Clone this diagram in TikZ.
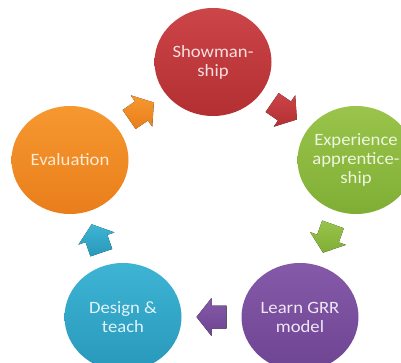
\documentclass[tikz,border=0pt]{standalone}
\usepackage{fontspec}
\setmainfont{Carlito}[FakeStretch=1.08]
\usetikzlibrary{calc,shapes.geometric}
\definecolor{redT}{HTML}{CC4548}
\definecolor{redB}{HTML}{B32F32}
\definecolor{redX}{HTML}{F8DFE0}
\definecolor{grnT}{HTML}{9AC44B}
\definecolor{grnB}{HTML}{80AE34}
\definecolor{grnX}{HTML}{EEF6E2}
\definecolor{purT}{HTML}{8559A9}
\definecolor{purB}{HTML}{6E4592}
\definecolor{purX}{HTML}{EFE7F4}
\definecolor{bluT}{HTML}{3EB4D4}
\definecolor{bluB}{HTML}{2898BA}
\definecolor{bluX}{HTML}{E2F3F8}
\definecolor{orgT}{HTML}{F6982F}
\definecolor{orgB}{HTML}{E97E1B}
\definecolor{orgX}{HTML}{FDEBD4}
\newcommand\cyclearrow[5]{%
  \begin{scope}[shift={($(#1)!0.5!(#2)$)}, rotate=#3]
    \fill[top color=#4, bottom color=#5]
      (-15,-11.5) -- (0,-11.5) -- (0,-19) -- (15,0) -- (0,19) -- (0,11.5) -- (-15,11.5) -- cycle;
  \end{scope}}
\begin{document}
\begin{tikzpicture}[x=1pt,y=1pt,
  bubble/.style={ellipse, minimum width=117pt, minimum height=108pt, inner sep=0pt},
  lbl/.style={align=center, inner sep=0pt, font=\fontsize{17.3}{19}\selectfont}]
\useasboundingbox (0,0) rectangle (401,362);
\clip (0,0) rectangle (401,362);
\node[bubble, top color=redT, bottom color=redB] (show) at (213,300) {};
\node[bubble, top color=grnT, bottom color=grnB] (exp) at (356,202) {};
\node[bubble, top color=purT, bottom color=purB] (learn) at (300,45) {};
\node[bubble, top color=bluT, bottom color=bluB] (design) at (123,45) {};
\node[bubble, top color=orgT, bottom color=orgB] (eval) at (70,202) {};
\node[lbl, text=redX] (showt) at (show) {Showman-\\ship};
\node[lbl, text=grnX] (expt) at (exp) {Experience\\apprentice-\\ship};
\node[lbl, text=purX] (learnt) at (learn) {Learn GRR\\model};
\node[lbl, text=bluX] (designt) at (design) {Design \&\\teach};
\node[lbl, text=orgX] (evalt) at (eval) {Evaluation};
\cyclearrow{eval}{show}{34.4}{orgT}{orgB}
\cyclearrow{show}{exp}{-34.4}{redT}{redB}
\cyclearrow{exp}{learn}{-109.6}{grnT}{grnB}
\cyclearrow{learn}{design}{180}{purT}{purB}
\cyclearrow{design}{eval}{108.7}{bluT}{bluB}
\end{tikzpicture}
\end{document}
